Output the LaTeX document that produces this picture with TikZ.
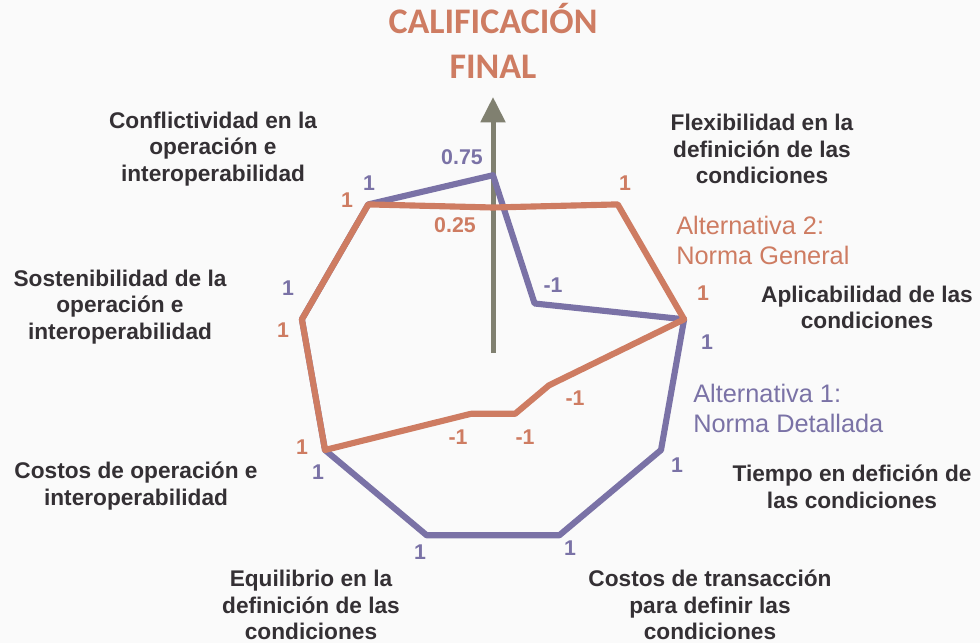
\documentclass[tikz,border=0pt]{standalone}
\usepackage{fontspec}
\setmainfont{Liberation Sans}
\newfontfamily\titlefont{Carlito}
\usetikzlibrary{arrows.meta}

\definecolor{gnorma}{RGB}{206,124,98}
\definecolor{dnorma}{RGB}{122,114,166}
\definecolor{ejecol}{RGB}{128,128,112}
\definecolor{txtcol}{RGB}{52,48,52}
\definecolor{fondo}{RGB}{250,250,250}

\begin{document}
\begin{tikzpicture}
	[x=0.75pt,y=-0.75pt,line join=round,
	 crit/.style={text=txtcol,align=center,font=\fontsize{17}{20}\selectfont\bfseries},
	 val/.style={font=\fontsize{16}{18}\selectfont\bfseries},
	 alt/.style={align=left,anchor=west,inner sep=0pt,font=\fontsize{19}{22.5}\selectfont},
	 titulo/.style={text=gnorma,anchor=base,font=\titlefont\bfseries\fontsize{27}{30}\selectfont},
	 poly/.style={line width=4.6pt}]

	\fill[fondo] (0,0) rectangle (980,643);
	\useasboundingbox (0,0) rectangle (980,643);

	% centro y eje
	\coordinate (c) at (493,353);
	\coordinate (tip) at (493,97);
	% alternativa 1
	\coordinate (d0) at (493,175.2);
	\coordinate (d1) at (534.6,303.5);
	\coordinate (d2) at (684.1,319.3);
	\coordinate (d3) at (661,450);
	\coordinate (d4) at (559.3,535.3);
	\coordinate (d5) at (426.7,535.3);
	\coordinate (d6) at (325,450);
	\coordinate (d7) at (301.9,319.3);
	\coordinate (d8) at (368.3,204.4);
	% alternativa 2
	\coordinate (g0) at (493,207.5);
	\coordinate (g1) at (617.7,204.4);
	\coordinate (g2) at (684.1,319.3);
	\coordinate (g3) at (549,385.3);
	\coordinate (g4) at (515.1,413.8);
	\coordinate (g5) at (470.9,413.8);
	\coordinate (g6) at (325,450);
	\coordinate (g7) at (301.9,319.3);
	\coordinate (g8) at (368.3,204.4);

	\draw[ejecol,line width=3.75pt,-{Triangle[width=18pt,length=19pt]}] (c) -- (tip);
	\draw[poly,dnorma] (d0) -- (d1) -- (d2) -- (d3) -- (d4) -- (d5) -- (d6) -- (d7) -- (d8) -- cycle;
	\draw[poly,gnorma] (g0) -- (g1) -- (g2) -- (g3) -- (g4) -- (g5) -- (g6) -- (g7) -- (g8) -- cycle;

	\node[titulo] (tit1) at (493,33.5) {CALIFICACIÓN};
	\node[titulo] (tit2) at (493,78) {FINAL};

	\node[crit] (conf) at (213,149) {Conflictividad en la\\operación e\\interoperabilidad};
	\node[crit] (flex) at (762,149) {Flexibilidad en la\\definición de las\\condiciones};
	\node[crit] (aplic) at (867,307.5) {Aplicabilidad de las\\condiciones};
	\node[crit] (tiempo) at (852,486.5) {Tiempo en defición de\\las condiciones};
	\node[crit] (ctrans) at (710,605) {Costos de transacción\\para definir las\\condiciones};
	\node[crit] (equil) at (311,605) {Equilibrio en la\\definición de las\\condiciones};
	\node[crit] (coper) at (136,486) {Costos de operación e\\interoperabilidad};
	\node[crit] (sost) at (120,307) {Sostenibilidad de la\\operación e\\interoperabilidad};

	\node[alt,text=gnorma] (alt2) at (676,240) {Alternativa 2:\\Norma General};
	\node[alt,text=dnorma] (alt1) at (693,408) {Alternativa 1:\\Norma Detallada};

	\node[val,text=dnorma] (vd0) at (462,157) {0.75};
	\node[val,text=dnorma] (vd1) at (553,285) {-1};
	\node[val,text=dnorma] (vd2) at (707,342) {1};
	\node[val,text=dnorma] (vd3) at (677,465) {1};
	\node[val,text=dnorma] (vd4) at (570,548) {1};
	\node[val,text=dnorma] (vd5) at (420,552) {1};
	\node[val,text=dnorma] (vd6) at (318,472) {1};
	\node[val,text=dnorma] (vd7) at (288,288) {1};
	\node[val,text=dnorma] (vd8) at (369,183) {1};

	\node[val,text=gnorma] (vg0) at (455,225) {0.25};
	\node[val,text=gnorma] (vg1) at (625,183) {1};
	\node[val,text=gnorma] (vg2) at (703,293) {1};
	\node[val,text=gnorma] (vg3) at (575,398) {-1};
	\node[val,text=gnorma] (vg4) at (525,437) {-1};
	\node[val,text=gnorma] (vg5) at (458,437) {-1};
	\node[val,text=gnorma] (vg6) at (302,447) {1};
	\node[val,text=gnorma] (vg7) at (283,330) {1};
	\node[val,text=gnorma] (vg8) at (347,200) {1};
\end{tikzpicture}
\end{document}
